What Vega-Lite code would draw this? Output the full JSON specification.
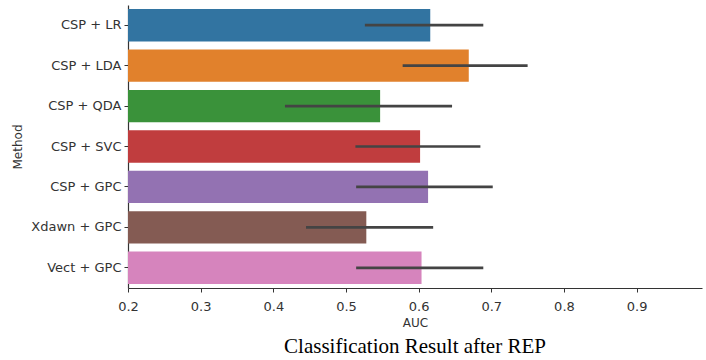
{
  "$schema": "https://vega.github.io/schema/vega-lite/v6.json",
  "autosize": "none",
  "width": 574,
  "height": 283,
  "padding": {"left": 128, "top": 5, "right": 4, "bottom": 72},
  "background": "white",
  "title": {
    "text": "Classification Result after REP",
    "orient": "bottom",
    "anchor": "middle",
    "font": "Liberation Serif",
    "fontSize": 21,
    "fontWeight": "normal",
    "color": "#000000",
    "offset": 8
  },
  "config": {"view": {"stroke": null}},
  "data": {
    "values": [
      {"method": "CSP + LR", "auc": 0.616, "lo": 0.526, "hi": 0.689},
      {"method": "CSP + LDA", "auc": 0.669, "lo": 0.578, "hi": 0.750},
      {"method": "CSP + QDA", "auc": 0.547, "lo": 0.416, "hi": 0.646},
      {"method": "CSP + SVC", "auc": 0.602, "lo": 0.513, "hi": 0.685},
      {"method": "CSP + GPC", "auc": 0.613, "lo": 0.514, "hi": 0.702},
      {"method": "Xdawn + GPC", "auc": 0.528, "lo": 0.445, "hi": 0.620},
      {"method": "Vect + GPC", "auc": 0.604, "lo": 0.514, "hi": 0.689}
    ]
  },
  "encoding": {
    "y": {
      "field": "method",
      "type": "nominal",
      "sort": null,
      "title": "Method",
      "scale": {"paddingInner": 0.2, "paddingOuter": 0.1},
      "axis": {
        "labelFont": "DejaVu Sans",
        "labelFontSize": 13,
        "labelColor": "#333333",
        "titleFont": "DejaVu Sans",
        "titleFontSize": 12,
        "titleFontWeight": "normal",
        "titleColor": "#333333",
        "domainColor": "#333333",
        "domainWidth": 1.2,
        "tickColor": "#333333",
        "tickSize": 4,
        "labelPadding": 3,
        "titlePadding": 6
      }
    }
  },
  "layer": [
    {
      "mark": {"type": "bar", "clip": true},
      "encoding": {
        "x": {
          "field": "auc",
          "type": "quantitative",
          "title": "AUC",
          "scale": {"domain": [0.2, 0.99], "nice": false, "zero": false},
          "axis": {
            "values": [0.2, 0.3, 0.4, 0.5, 0.6, 0.7, 0.8, 0.9],
            "format": ".1f",
            "grid": false,
            "labelFlush": false,
            "labelFont": "DejaVu Sans",
            "labelFontSize": 13,
            "labelColor": "#333333",
            "titleFont": "DejaVu Sans",
            "titleFontSize": 12,
            "titleFontWeight": "normal",
            "titleColor": "#333333",
            "domainColor": "#333333",
            "domainWidth": 1.2,
            "tickColor": "#333333",
            "tickSize": 4,
            "labelPadding": 8,
            "titlePadding": 4
          }
        },
        "color": {
          "field": "method",
          "type": "nominal",
          "sort": null,
          "legend": null,
          "scale": {
            "domain": ["CSP + LR", "CSP + LDA", "CSP + QDA", "CSP + SVC", "CSP + GPC", "Xdawn + GPC", "Vect + GPC"],
            "range": ["#3274a1", "#e1812c", "#3a923a", "#c03d3e", "#9372b2", "#845b53", "#d684bd"]
          }
        }
      }
    },
    {
      "mark": {"type": "rule", "color": "#444444", "strokeWidth": 2.7},
      "encoding": {
        "x": {"field": "lo", "type": "quantitative"},
        "x2": {"field": "hi"}
      }
    }
  ]
}
